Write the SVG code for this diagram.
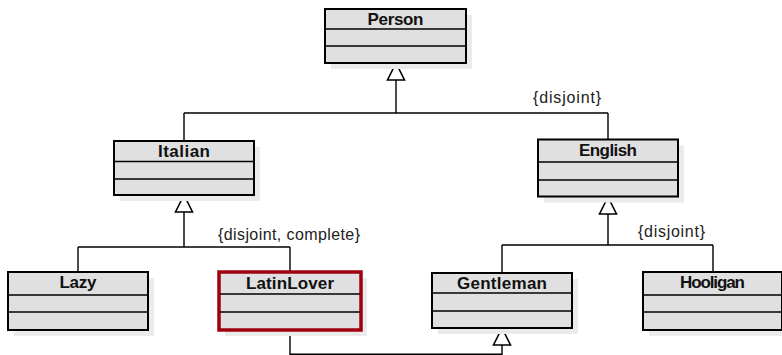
<svg xmlns="http://www.w3.org/2000/svg" width="782" height="355" viewBox="0 0 782 355">
<style>
.shadow{fill:#ebebeb}
.box{fill:#e0e0e0;stroke:#000;stroke-width:2}
.red{fill:#e0e0e0;stroke:#a0000f;stroke-width:3.5}
.div{stroke:#000;stroke-width:1.5}
.title{font-family:"Liberation Sans",Arial,sans-serif;font-weight:bold;font-size:17px;text-anchor:middle;fill:#111}
.lbl{font-family:"Liberation Sans",Arial,sans-serif;font-size:16px;fill:#222}
.ln{fill:none;stroke:#000;stroke-width:1.4}
.tri{fill:#fff;stroke:#000;stroke-width:1.6;stroke-linejoin:miter}
</style>
<rect width="782" height="355" fill="#fff"/>
<g id="connectors">
<path class="ln" d="M396 80V113M184 113H608M184 113V141M608 113V139.5"/>
<path class="tri" d="M396 63L387.5 80H404.5Z"/>
<path class="ln" d="M184 212V247M78 247H290M78 247V272M290 247V272"/>
<path class="tri" d="M184 195L175.5 212H192.5Z"/>
<path class="ln" d="M608 214V245M502 245H713M502 245V273M713 245V272"/>
<path class="tri" d="M608 197L599.5 214H616.5Z"/>
<path class="ln" d="M290 331V354.3H502V345" stroke="#333"/>
<path class="tri" d="M502 328L493.5 345H510.5Z"/>
<text class="lbl" x="533" y="103" textLength="68">{disjoint}</text>
<text class="lbl" x="218" y="240" textLength="142">{disjoint, complete}</text>
<text class="lbl" x="638" y="237" textLength="67">{disjoint}</text>
</g>
<g id="Person">
<rect class="shadow" x="331" y="15" width="141" height="54"/>
<rect class="box" x="325" y="9" width="141" height="54"/>
<path class="div" d="M325 29H466M325 46H466"/>
<text class="title" x="395.5" y="25" textLength="56">Person</text>
</g>
<g id="Italian">
<rect class="shadow" x="120" y="147" width="140" height="54"/>
<rect class="box" x="114" y="141" width="140" height="54"/>
<path class="div" d="M114 161.5H254M114 179H254"/>
<text class="title" x="184" y="157" textLength="52">Italian</text>
</g>
<g id="English">
<rect class="shadow" x="544" y="145.5" width="140" height="57"/>
<rect class="box" x="538" y="139.5" width="140" height="57"/>
<path class="div" d="M538 162H678M538 180H678"/>
<text class="title" x="608" y="156" textLength="58">English</text>
</g>
<g id="Lazy">
<rect class="shadow" x="14" y="278" width="140" height="58"/>
<rect class="box" x="8" y="272" width="140" height="58"/>
<path class="div" d="M8 295H148M8 312H148"/>
<text class="title" x="78" y="288" textLength="37">Lazy</text>
</g>
<g id="LatinLover">
<rect class="shadow" x="225" y="278" width="142" height="58"/>
<rect class="red" x="219" y="272" width="142" height="58"/>
<path class="div" d="M220 294H360M220 312H360"/>
<text class="title" x="290" y="289" textLength="88">LatinLover</text>
</g>
<g id="Gentleman">
<rect class="shadow" x="438" y="279" width="140" height="55"/>
<rect class="box" x="432" y="273" width="140" height="55"/>
<path class="div" d="M432 293H572M432 311H572"/>
<text class="title" x="502" y="289" textLength="90">Gentleman</text>
</g>
<g id="Hooligan">
<rect class="shadow" x="649" y="278" width="139" height="58"/>
<rect class="box" x="643" y="272" width="139" height="58"/>
<path class="div" d="M643 295H782M643 312H782"/>
<text class="title" x="712.5" y="288" textLength="65">Hooligan</text>
</g>
</svg>
